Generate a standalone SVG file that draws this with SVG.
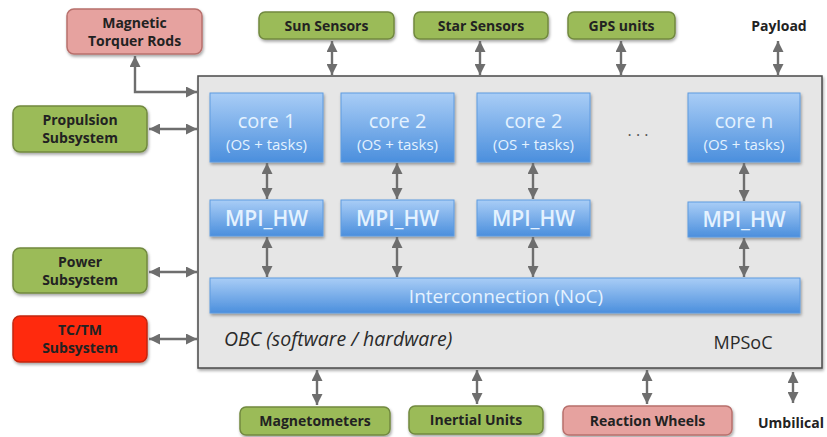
<svg xmlns="http://www.w3.org/2000/svg" width="827" height="437" viewBox="0 0 827 437">
  <defs>
    <linearGradient id="blueFill" x1="0" y1="0" x2="0" y2="1">
      <stop offset="0" stop-color="#a9cdf6"/>
      <stop offset="1" stop-color="#4b8fdd"/>
    </linearGradient>
    <filter id="shadow" x="-10%" y="-10%" width="120%" height="130%">
      <feDropShadow dx="1" dy="2" stdDeviation="1.5" flood-color="#000" flood-opacity="0.35"/>
    </filter>
    <marker id="head" viewBox="0 0 10 10" refX="10" refY="5" markerWidth="11" markerHeight="11" markerUnits="userSpaceOnUse" orient="auto-start-reverse">
      <path d="M0,0 L10,5 L0,10 Z" fill="#6e6e6e"/>
    </marker>
    <style>
      .ext { stroke-width: 1.5; filter: url(#shadow); }
      .green { fill: #9bbb59; stroke: #71893f; }
      .pink { fill: #e6a29f; stroke: #b8706c; }
      .red { fill: #ff2b0c; stroke: #c4260f; }
      .lbl { font-family: "Open Sans", "Liberation Sans", sans-serif; font-weight: 700; font-size: 14px; fill: #222; text-anchor: middle; }
      .blue { fill: url(#blueFill); stroke: #5f9be0; stroke-width: 1; filter: url(#shadow); }
      .btxt { font-family: "Open Sans", "Liberation Sans", sans-serif; fill: #e4f2ff; text-anchor: middle; }
      .core { font-size: 20px; }
      .sub { font-size: 15px; }
      .mpi { font-size: 21px; font-weight: 600; }
      .conn { stroke: #6e6e6e; stroke-width: 2.4; fill: none; marker-start: url(#head); marker-end: url(#head); }
    </style>
  </defs>

  <rect width="827" height="437" fill="#ffffff"/>

  <!-- MPSoC / OBC container -->
  <g id="mpsoc">
    <rect x="198" y="76" width="624" height="292" fill="#e6e6e6" stroke="#4a4a4a" stroke-width="1.5" filter="url(#shadow)"/>
    <text x="224" y="346" font-family="Open Sans, Liberation Sans, sans-serif" font-style="italic" font-size="19.5" fill="#2a2a2a">OBC (software / hardware)</text>
    <text x="743" y="349" font-family="Open Sans, Liberation Sans, sans-serif" font-size="18" fill="#2a2a2a" text-anchor="middle">MPSoC</text>
    <text x="638" y="136" font-family="Open Sans, Liberation Sans, sans-serif" font-size="16" fill="#555" text-anchor="middle">. . .</text>
  </g>

  <!-- cores -->
  <g id="core1">
    <rect class="blue" x="210" y="93" width="113" height="69"/>
    <text class="btxt core" x="266.5" y="128">core 1</text>
    <text class="btxt sub" x="266.5" y="150">(OS + tasks)</text>
  </g>
  <g id="core2a">
    <rect class="blue" x="341" y="93" width="113" height="69"/>
    <text class="btxt core" x="397.5" y="128">core 2</text>
    <text class="btxt sub" x="397.5" y="150">(OS + tasks)</text>
  </g>
  <g id="core2b">
    <rect class="blue" x="477" y="93" width="113" height="69"/>
    <text class="btxt core" x="533.5" y="128">core 2</text>
    <text class="btxt sub" x="533.5" y="150">(OS + tasks)</text>
  </g>
  <g id="coren">
    <rect class="blue" x="688" y="93" width="112" height="69"/>
    <text class="btxt core" x="744" y="128">core n</text>
    <text class="btxt sub" x="744" y="150">(OS + tasks)</text>
  </g>

  <!-- MPI hardware blocks -->
  <g id="mpi1">
    <rect class="blue" x="210" y="200" width="113" height="36"/>
    <text class="btxt mpi" x="266.5" y="225.5">MPI_HW</text>
  </g>
  <g id="mpi2a">
    <rect class="blue" x="341" y="200" width="113" height="36"/>
    <text class="btxt mpi" x="397.5" y="225.5">MPI_HW</text>
  </g>
  <g id="mpi2b">
    <rect class="blue" x="477" y="200" width="113" height="36"/>
    <text class="btxt mpi" x="533.5" y="225.5">MPI_HW</text>
  </g>
  <g id="mpin">
    <rect class="blue" x="688" y="202" width="112" height="35"/>
    <text class="btxt mpi" x="744" y="227">MPI_HW</text>
  </g>

  <!-- network on chip -->
  <g id="noc">
    <rect class="blue" x="210" y="278" width="590" height="35"/>
    <text class="btxt" x="506" y="302.5" font-size="19">Interconnection (NoC)</text>
  </g>

  <!-- external units -->
  <g id="torquer">
    <rect class="ext pink" x="67" y="9" width="135" height="45" rx="7"/>
    <text class="lbl" x="134.5" y="28">Magnetic</text>
    <text class="lbl" x="134.5" y="46">Torquer Rods</text>
  </g>
  <g id="sun">
    <rect class="ext green" x="259" y="12" width="135" height="27" rx="6"/>
    <text class="lbl" x="326.5" y="30.5">Sun Sensors</text>
  </g>
  <g id="star">
    <rect class="ext green" x="414" y="12" width="134" height="27" rx="6"/>
    <text class="lbl" x="481" y="30.5">Star Sensors</text>
  </g>
  <g id="gps">
    <rect class="ext green" x="568" y="12" width="107" height="27" rx="6"/>
    <text class="lbl" x="621.5" y="30.5">GPS units</text>
  </g>
  <g id="payload">
    <text class="lbl" x="779" y="31">Payload</text>
  </g>
  <g id="propulsion">
    <rect class="ext green" x="13" y="106" width="134" height="46" rx="7"/>
    <text class="lbl" x="80" y="125">Propulsion</text>
    <text class="lbl" x="80" y="143">Subsystem</text>
  </g>
  <g id="power">
    <rect class="ext green" x="13" y="248" width="134" height="45" rx="7"/>
    <text class="lbl" x="80" y="267">Power</text>
    <text class="lbl" x="80" y="285">Subsystem</text>
  </g>
  <g id="tctm">
    <rect class="ext red" x="13" y="316" width="134" height="46" rx="7"/>
    <text class="lbl" x="80" y="335">TC/TM</text>
    <text class="lbl" x="80" y="353">Subsystem</text>
  </g>
  <g id="magnetometers">
    <rect class="ext green" x="240" y="407" width="150" height="28" rx="6"/>
    <text class="lbl" x="315" y="426">Magnetometers</text>
  </g>
  <g id="inertial">
    <rect class="ext green" x="409" y="406" width="134" height="28" rx="6"/>
    <text class="lbl" x="476" y="425">Inertial Units</text>
  </g>
  <g id="wheels">
    <rect class="ext pink" x="563" y="406" width="169" height="29" rx="6"/>
    <text class="lbl" x="647.5" y="425.5">Reaction Wheels</text>
  </g>
  <g id="umbilical">
    <text class="lbl" x="791" y="428">Umbilical</text>
  </g>

  <!-- connectors -->
  <g id="connectors">
    <path class="conn" d="M135,56 V92 H197"/>
    <path class="conn" d="M332,41 V75"/>
    <path class="conn" d="M480,41 V75"/>
    <path class="conn" d="M621,41 V75"/>
    <path class="conn" d="M778,41 V75"/>
    <path class="conn" d="M149,129 H197"/>
    <path class="conn" d="M149,272 H197"/>
    <path class="conn" d="M149,339 H197"/>
    <path class="conn" d="M317,370 V405"/>
    <path class="conn" d="M477,370 V404"/>
    <path class="conn" d="M647,370 V404"/>
    <path class="conn" d="M793,372 V403"/>
    <!-- core to MPI -->
    <path class="conn" d="M267,163 V199"/>
    <path class="conn" d="M397,163 V199"/>
    <path class="conn" d="M533,163 V199"/>
    <path class="conn" d="M744,163 V201"/>
    <!-- MPI to NoC -->
    <path class="conn" d="M267,237 V277"/>
    <path class="conn" d="M397,237 V277"/>
    <path class="conn" d="M533,237 V277"/>
    <path class="conn" d="M744,238 V277"/>
  </g>
</svg>
